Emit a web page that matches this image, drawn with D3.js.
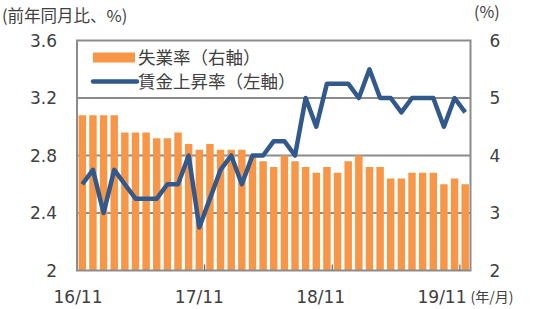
<!DOCTYPE html>
<html>
<head>
<meta charset="utf-8">
<script src="https://cdn.jsdelivr.net/npm/d3@7"></script>
<style>
  body { margin: 0; background: #fff; }
  text { fill: #404040; }
  .num { font-family: "DejaVu Sans", sans-serif; font-size: 17px; }
  .jp { font-family: "Noto Sans CJK JP", sans-serif; }
</style>
</head>
<body>
<div id="chart-area"></div>
<script>
// months from 16/11 to 19/11
const months = d3.range(37);
const xLabels = ["16/11", "17/11", "18/11", "19/11"];
const xLabelIdx = [0, 12, 24, 36];

// unemployment rate (right axis, %)
const unemployment = [4.7, 4.7, 4.7, 4.7, 4.4, 4.4, 4.4, 4.3, 4.3, 4.4, 4.2, 4.1,
    4.2, 4.1, 4.1, 4.1, 4.0, 3.9, 3.8, 4.0, 3.9, 3.8, 3.7, 3.8,
    3.7, 3.9, 4.0, 3.8, 3.8, 3.6, 3.6, 3.7, 3.7, 3.7, 3.5, 3.6, 3.5];

// wage growth (left axis, yoy %)
const wages = [2.6, 2.7, 2.4, 2.7, 2.6, 2.5, 2.5, 2.5, 2.6, 2.6, 2.8, 2.3,
    2.5, 2.7, 2.8, 2.6, 2.8, 2.8, 2.9, 2.9, 2.8, 3.2, 3.0, 3.3,
    3.3, 3.3, 3.2, 3.4, 3.2, 3.2, 3.1, 3.2, 3.2, 3.2, 3.0, 3.2, 3.1];

const leftTicks = [2, 2.4, 2.8, 3.2, 3.6];
const rightTicks = [2, 3, 4, 5, 6];

let margin = {top: 40.5, right: 79.5, bottom: 38.5, left: 77};
let width = 550 - margin.left - margin.right;
let height = 309 - margin.top - margin.bottom;

let svg = d3.select("#chart-area").append("svg")
    .attr("width", 550)
    .attr("height", 309);

let g = svg.append("g")
    .attr("transform", "translate(" + margin.left + "," + margin.top + ")");

// scales
let x = d3.scaleBand()
    .domain(months)
    .range([0, width])
    .paddingInner(0.3)
    .paddingOuter(0.15);

let yLeft = d3.scaleLinear().domain([2, 3.6]).range([height, 0]);
let yRight = d3.scaleLinear().domain([2, 6]).range([height, 0]);

// x labels sit a little left of the month they name in the original
let xLabelPos = d3.scaleLinear().domain([0, 36]).range([1, 365]);

// gridlines
g.selectAll(".grid")
    .data(leftTicks.slice(1, 4))
    .enter().append("line")
    .attr("x1", 0)
    .attr("x2", width)
    .attr("y1", d => yLeft(d))
    .attr("y2", d => yLeft(d))
    .attr("stroke", "#8c8c8c")
    .attr("stroke-width", 2);

// bars
g.selectAll(".bar")
    .data(unemployment)
    .enter().append("rect")
    .attr("x", (d, i) => x(i))
    .attr("y", d => yRight(d))
    .attr("width", x.bandwidth())
    .attr("height", d => height - yRight(d))
    .attr("fill", "#F79646");

// frame
g.append("rect")
    .attr("width", width)
    .attr("height", height)
    .attr("fill", "none")
    .attr("stroke", "#8c8c8c")
    .attr("stroke-width", 2);

// inner ticks at year boundaries
let step = x.step();
g.selectAll(".tick-mark")
    .data([12, 24, 36])
    .enter().append("line")
    .attr("x1", d => x(d) - step * 0.15)
    .attr("x2", d => x(d) - step * 0.15)
    .attr("y1", height)
    .attr("y2", height - 6)
    .attr("stroke", "#666")
    .attr("stroke-width", 1.2);

// wage line
let line = d3.line()
    .x((d, i) => x(i) + x.bandwidth() / 2)
    .y(d => yLeft(d));

g.append("path")
    .datum(wages)
    .attr("d", line)
    .attr("fill", "none")
    .attr("stroke", "#31598C")
    .attr("stroke-width", 4.5)
    .attr("stroke-linejoin", "round");

// left axis labels
g.selectAll(".ly")
    .data(leftTicks)
    .enter().append("text")
    .attr("class", "num")
    .attr("x", -20)
    .attr("y", d => yLeft(d) + 6)
    .attr("text-anchor", "end")
    .text(d => d);

// right axis labels
g.selectAll(".ry")
    .data(rightTicks)
    .enter().append("text")
    .attr("class", "num")
    .attr("x", width + 19)
    .attr("y", d => yRight(d) + 6)
    .text(d => d);

// x labels
g.selectAll(".xl")
    .data(xLabels)
    .enter().append("text")
    .attr("class", "num")
    .attr("x", (d, i) => xLabelPos(xLabelIdx[i]))
    .attr("y", height + 32)
    .attr("text-anchor", "middle")
    .text(d => d);

g.append("text")
    .attr("class", "jp")
    .attr("x", width)
    .attr("y", height + 31)
    .style("font-size", "14px")
    .text("(年/月)");

// axis titles
svg.append("text")
    .attr("class", "jp")
    .attr("x", 2)
    .attr("y", 22)
    .style("font-size", "16.5px")
    .text("(前年同月比、%)");

svg.append("text")
    .attr("class", "jp")
    .attr("x", 474)
    .attr("y", 18)
    .style("font-size", "16px")
    .text("(%)");

// legend
let legend = g.append("g").attr("transform", "translate(16,0)");

legend.append("rect")
    .attr("x", 0)
    .attr("y", 12)
    .attr("width", 42)
    .attr("height", 10)
    .attr("fill", "#F79646");

legend.append("line")
    .attr("x1", 0)
    .attr("x2", 44)
    .attr("y1", 41)
    .attr("y2", 41)
    .attr("stroke", "#31598C")
    .attr("stroke-width", 4.5)
    .attr("stroke-linecap", "round");

legend.append("text")
    .attr("class", "jp")
    .attr("x", 45)
    .attr("y", 23)
    .style("font-size", "17.5px")
    .text("失業率（右軸）");

legend.append("text")
    .attr("class", "jp")
    .attr("x", 45)
    .attr("y", 47.5)
    .style("font-size", "17.5px")
    .text("賃金上昇率（左軸）");
</script>
</body>
</html>
